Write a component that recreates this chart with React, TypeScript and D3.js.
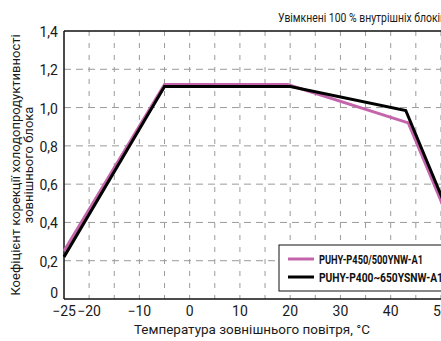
import React from 'react';
import * as d3 from 'd3';

// outdoor temperature, °C
const tempA = [-25, -5, 19.5, 43.5, 51];
// correction factor, PUHY-P450/500YNW-A1
const valA = [0.25, 1.12, 1.12, 0.92, 0.45];

const tempB = [-25, -5, 20, 43, 51];
// correction factor, PUHY-P400~650YSNW-A1
const valB = [0.22, 1.11, 1.11, 0.985, 0.48];

const seriesNames = ['PUHY-P450/500YNW-A1', 'PUHY-P400~650YSNW-A1'];
const seriesColors = ['#c464ab', '#000000'];

const xTicks = [-25, -20, -10, 0, 10, 20, 30, 40, 50];
const xGrid = [-20, -15, -10, -5, 0, 5, 10, 15, 20, 25, 30, 35, 40, 45, 50];
const yTicks = [0, 0.2, 0.4, 0.6, 0.8, 1.0, 1.2, 1.4];
const yGrid = [0.2, 0.4, 0.6, 0.8, 1.0, 1.2];

const W = 441;
const H = 341;
const font = 'Roboto, "Noto Sans", sans-serif';

const App = () => {
  const x = d3.scaleLinear().domain([-25, 52]).range([64, 451]);
  const y = d3.scaleLinear().domain([0, 1.4]).range([299, 31]);

  const line = d3.line<[number, number]>()
    .x(d => x(d[0]))
    .y(d => y(d[1]));

  const ptsA = tempA.map((t, i) => [t, valA[i]] as [number, number]);
  const ptsB = tempB.map((t, i) => [t, valB[i]] as [number, number]);

  const left = x(-25);
  const right = x(52);
  const top = y(1.4);
  const bottom = y(0);

  const fmt = (v: number) => (v === 0 ? '0' : v.toFixed(1).replace('.', ','));
  const fmtX = (v: number) => (v < 0 ? '\u2212' + Math.abs(v) : String(v));

  const legX = 279;
  const legY = 245;
  // condensed look: squeeze the legend names
  const legLen = [104, 124];

  return (
    <div style={{ position: 'absolute', left: 0, top: 0 }}>
      <svg width={W} height={H} style={{ display: 'block', background: '#fff' }}>
        {/* grid */}
        {xGrid.map(v => (
          <line key={'gx' + v} x1={x(v)} x2={x(v)} y1={top} y2={bottom}
            stroke="#9a9a9a" strokeWidth={1} strokeDasharray="5,7" />
        ))}
        {yGrid.map(v => (
          <line key={'gy' + v} x1={left} x2={right} y1={y(v)} y2={y(v)}
            stroke="#9a9a9a" strokeWidth={1} strokeDasharray="7,5" />
        ))}

        {/* frame */}
        <line x1={left} x2={right} y1={top} y2={top} stroke="#111" strokeWidth={1.5} />
        <line x1={left} x2={left} y1={top} y2={bottom} stroke="#111" strokeWidth={1.5} />
        <line x1={left} x2={right} y1={bottom} y2={bottom} stroke="#111" strokeWidth={1.5} />

        {/* series */}
        <path d={line(ptsA) || ''} fill="none" stroke={seriesColors[0]} strokeWidth={3} />
        <path d={line(ptsB) || ''} fill="none" stroke={seriesColors[1]} strokeWidth={3} />

        {/* y ticks */}
        {yTicks.map(v => (
          <text key={'ty' + v} x={58} y={y(v) + (v === 0 ? -6 : 1)} textAnchor="end"
            dominantBaseline="central" fontFamily={font} fontSize={14} fill="#1a1a1a">
            {fmt(v)}
          </text>
        ))}

        {/* x ticks */}
        {xTicks.map(v => (
          <text key={'tx' + v} x={x(v)} y={311} textAnchor="middle"
            dominantBaseline="central" fontFamily={font} fontSize={14} fill="#1a1a1a">
            {fmtX(v)}
          </text>
        ))}

        {/* axis titles */}
        <text x={252} y={334} textAnchor="middle" fontFamily={font} fontSize={13} fill="#1a1a1a"
          textLength={236} lengthAdjust="spacingAndGlyphs">
          Температура зовнішнього повітря, °C
        </text>
        <g transform={`translate(20, ${(top + bottom) / 2}) rotate(-90)`}>
          <text x={0} y={0} textAnchor="middle" fontFamily={font} fontSize={13} fill="#1a1a1a">
            Коефіцієнт корекції холодопродуктивності
          </text>
          <text x={0} y={13} textAnchor="middle" fontFamily={font} fontSize={13} fill="#1a1a1a">
            зовнішнього блока
          </text>
        </g>

        {/* top note */}
        <text x={278} y={22} fontFamily={font} fontSize={13} fill="#1a1a1a"
          textLength={168} lengthAdjust="spacingAndGlyphs">
          Увімкнені 100 % внутрішніх блоків
        </text>

        {/* legend */}
        <rect x={legX} y={legY} width={200} height={46} fill="#fff" stroke="#111" strokeWidth={1} />
        {seriesNames.map((name, i) => (
          <g key={name}>
            <line x1={legX + 9} x2={legX + 35} y1={legY + 14 + i * 18} y2={legY + 14 + i * 18}
              stroke={seriesColors[i]} strokeWidth={3} />
            <text x={legX + 40} y={legY + 14 + i * 18} dominantBaseline="central"
              fontFamily={font} fontSize={13.5} fontWeight="bold" fill="#111"
              textLength={legLen[i]} lengthAdjust="spacingAndGlyphs">
              {name}
            </text>
          </g>
        ))}
      </svg>
    </div>
  );
};

export default App;
